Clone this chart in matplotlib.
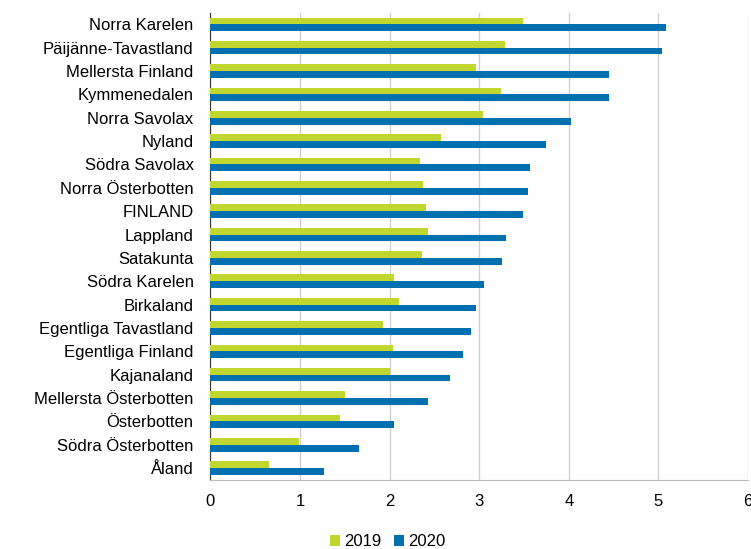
import numpy as np
import matplotlib.pyplot as plt

plt.rcParams['font.family'] = ['Liberation Sans', 'DejaVu Sans']

regions = ['Norra Karelen', 'Päijänne-Tavastland', 'Mellersta Finland', 'Kymmenedalen',
           'Norra Savolax', 'Nyland', 'Södra Savolax', 'Norra Österbotten', 'FINLAND',
           'Lappland', 'Satakunta', 'Södra Karelen', 'Birkaland', 'Egentliga Tavastland',
           'Egentliga Finland', 'Kajanaland', 'Mellersta Österbotten', 'Österbotten',
           'Södra Österbotten', 'Åland']
v2019 = [3.49, 3.29, 2.97, 3.24, 3.04, 2.57, 2.34, 2.37, 2.41, 2.43,
         2.36, 2.05, 2.11, 1.93, 2.04, 2.00, 1.50, 1.45, 0.99, 0.66]
v2020 = [5.09, 5.04, 4.45, 4.45, 4.02, 3.75, 3.57, 3.54, 3.49, 3.30,
         3.25, 3.05, 2.97, 2.91, 2.82, 2.68, 2.43, 2.05, 1.66, 1.27]

green = '#c1d72f'
blue = '#0070b0'
fs = 12

fig = plt.figure(figsize=(7.51, 5.49), dpi=100)
ax = fig.add_axes([0.28, 0.126, 0.716, 0.851])

y = np.arange(len(regions))
h = 0.29
ax.barh(y - h / 2, v2019, height=h, color=green, label='2019', zorder=3)
ax.barh(y + h / 2, v2020, height=h, color=blue, label='2020', zorder=3)

ax.set_ylim(len(regions) - 0.5, -0.5)
ax.set_yticks(y)
ax.set_yticklabels(regions, fontsize=fs)
ax.set_xlim(0, 6)
ax.set_xticks(range(7))
ax.tick_params(axis='x', labelsize=fs, length=0, pad=10)
ax.tick_params(axis='y', length=0, pad=12)
ax.grid(axis='x', color='#d0d0d0', linewidth=1, zorder=0)

for s in ['top', 'right']:
    ax.spines[s].set_visible(False)
ax.spines['left'].set_color('#333333')
ax.spines['bottom'].set_color('#bbbbbb')

ax.legend(loc='center', bbox_to_anchor=(0.33, -0.133), ncol=2, frameon=False,
          fontsize=fs, handlelength=0.6, handleheight=0.6, handletextpad=0.25,
          columnspacing=0.8, borderpad=0)

fig.savefig('out.png', dpi=100)
